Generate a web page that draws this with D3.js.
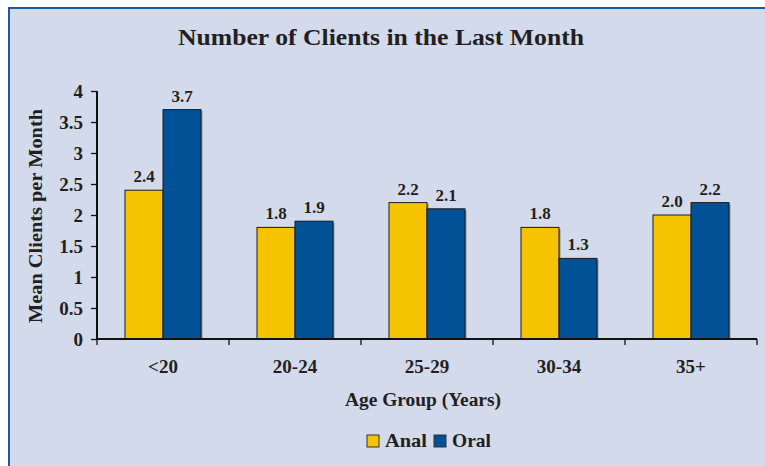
<!DOCTYPE html>
<html lang="en">
<head>
    <meta charset="UTF-8">
    <title>Number of Clients in the Last Month</title>
    <script src="https://d3js.org/d3.v7.min.js"></script>
    <style>
        body { margin: 0; background: white; }
        text {
            font-family: 'Liberation Serif', 'DejaVu Serif', serif;
            font-weight: bold;
            fill: #231f20;
        }
    </style>
</head>
<body>
<script>
    const width = 765;
    const height = 466;

    const categories = ['<20', '20-24', '25-29', '30-34', '35+'];
    const series = ['Anal', 'Oral'];
    const anal = [2.4, 1.8, 2.2, 1.8, 2.0];
    const oral = [3.7, 1.9, 2.1, 1.3, 2.2];
    const yTicks = [0, 0.5, 1, 1.5, 2, 2.5, 3, 3.5, 4];
    const colors = ['#f6c300', '#005196'];

    const data = categories.map((c, i) => ({cat: c, values: [anal[i], oral[i]]}));

    const plot = {left: 97, right: 757, top: 91, bottom: 339};

    // stretch a text to the wider width of the original (Book Antiqua-like) font
    function fit(sel, w) {
        sel.attr('textLength', w).attr('lengthAdjust', 'spacingAndGlyphs');
    }

    const svg = d3.select('body').append('svg').attr('width', width).attr('height', height);

    // panel + border
    svg.append('rect').attr('x', 9).attr('y', 8).attr('width', width).attr('height', height)
        .style('fill', '#d2daec');
    svg.append('line').attr('x1', 9).attr('x2', width).attr('y1', 8).attr('y2', 8)
        .style('stroke', '#1a5aa0').style('stroke-width', 2);
    svg.append('line').attr('x1', 9).attr('x2', 9).attr('y1', 7).attr('y2', height)
        .style('stroke', '#1a5aa0').style('stroke-width', 2);

    const x = d3.scaleBand().domain(categories).range([plot.left, plot.right]);
    const inner = d3.scaleBand().domain(series).range([28, x.bandwidth() - 28]);
    const y = d3.scaleLinear().domain([0, 4]).range([plot.bottom, plot.top]);

    // bars
    const groups = svg.selectAll('g.group')
        .data(data).enter()
        .append('g').attr('class', 'group')
        .attr('transform', d => `translate(${x(d.cat)},0)`);

    groups.selectAll('rect.shadow')
        .data(d => d.values).enter()
        .append('rect').attr('class', 'shadow')
        .attr('x', (v, i) => inner(series[i]) + 1.5)
        .attr('y', v => y(v) + 1.5)
        .attr('width', inner.bandwidth())
        .attr('height', v => y(0) - y(v) - 1.5)
        .style('fill', '#8a8f99');

    groups.selectAll('rect.bar')
        .data(d => d.values).enter()
        .append('rect').attr('class', 'bar')
        .attr('x', (v, i) => inner(series[i]))
        .attr('y', v => y(v))
        .attr('width', inner.bandwidth())
        .attr('height', v => y(0) - y(v))
        .style('fill', (v, i) => colors[i])
        .style('stroke', '#1b1b1b')
        .style('stroke-width', 1);

    groups.selectAll('text.value')
        .data(d => d.values).enter()
        .append('text').attr('class', 'value')
        .attr('x', (v, i) => inner(series[i]) + inner.bandwidth() / 2)
        .attr('y', v => y(v) - 8)
        .attr('text-anchor', 'middle')
        .style('font-size', '17px')
        .text(v => v.toFixed(1));

    // y axis
    const yAxis = svg.append('g')
        .attr('transform', `translate(${plot.left},0)`)
        .call(d3.axisLeft(y).tickValues(yTicks).tickSize(6).tickPadding(8).tickFormat(d3.format('')));
    yAxis.select('.domain').style('stroke', '#111').style('stroke-width', 2).attr('d', `M0,${plot.top}V${plot.bottom}`);
    yAxis.selectAll('.tick line').style('stroke', '#111').style('stroke-width', 1.3);
    yAxis.selectAll('.tick text')
        .style('font-family', "'Liberation Serif', serif").style('font-weight', 'bold')
        .style('font-size', '19px').style('fill', '#231f20');

    // x axis
    const xAxis = svg.append('g')
        .attr('transform', `translate(0,${plot.bottom})`)
        .call(d3.axisBottom(x).tickSize(0));
    xAxis.select('.domain').style('stroke', '#111').style('stroke-width', 2).attr('d', `M${plot.left},0H${plot.right}`);
    xAxis.selectAll('.tick text')
        .attr('y', 34).attr('dy', 0)
        .style('font-family', "'Liberation Serif', serif").style('font-weight', 'bold')
        .style('font-size', '19px').style('fill', '#231f20');
    xAxis.selectAll('line.sep')
        .data(categories.map(c => x(c) + x.bandwidth()).concat([plot.left])).enter()
        .append('line').attr('class', 'sep')
        .attr('x1', d => d).attr('x2', d => d)
        .attr('y1', 0).attr('y2', 6)
        .style('stroke', '#111').style('stroke-width', 1.3);

    // titles
    svg.append('text')
        .attr('x', 381).attr('y', 44.5)
        .attr('text-anchor', 'middle')
        .style('font-size', '24px')
        .text('Number of Clients in the Last Month')
        .call(fit, 406);

    svg.append('text')
        .attr('x', 423).attr('y', 406)
        .attr('text-anchor', 'middle')
        .style('font-size', '18px')
        .text('Age Group (Years)')
        .call(fit, 156);

    svg.append('text')
        .attr('transform', 'translate(41.5,216) rotate(-90)')
        .attr('text-anchor', 'middle')
        .style('font-size', '18px')
        .text('Mean Clients per Month')
        .call(fit, 214);

    // legend
    const legend = svg.append('g').attr('transform', 'translate(367,435)');
    const legendX = [0, 67];
    const legendW = [42, 39];
    const items = legend.selectAll('g')
        .data(series).enter()
        .append('g')
        .attr('transform', (d, i) => `translate(${legendX[i]},0)`);
    items.append('rect')
        .attr('width', 12).attr('height', 12)
        .style('fill', (d, i) => colors[i])
        .style('stroke', '#333').style('stroke-width', 1);
    items.append('text')
        .attr('x', 18).attr('y', 12)
        .style('font-size', '19px')
        .text(d => d)
        .each(function(d, i) { d3.select(this).call(fit, legendW[i]); });
</script>
</body>
</html>
